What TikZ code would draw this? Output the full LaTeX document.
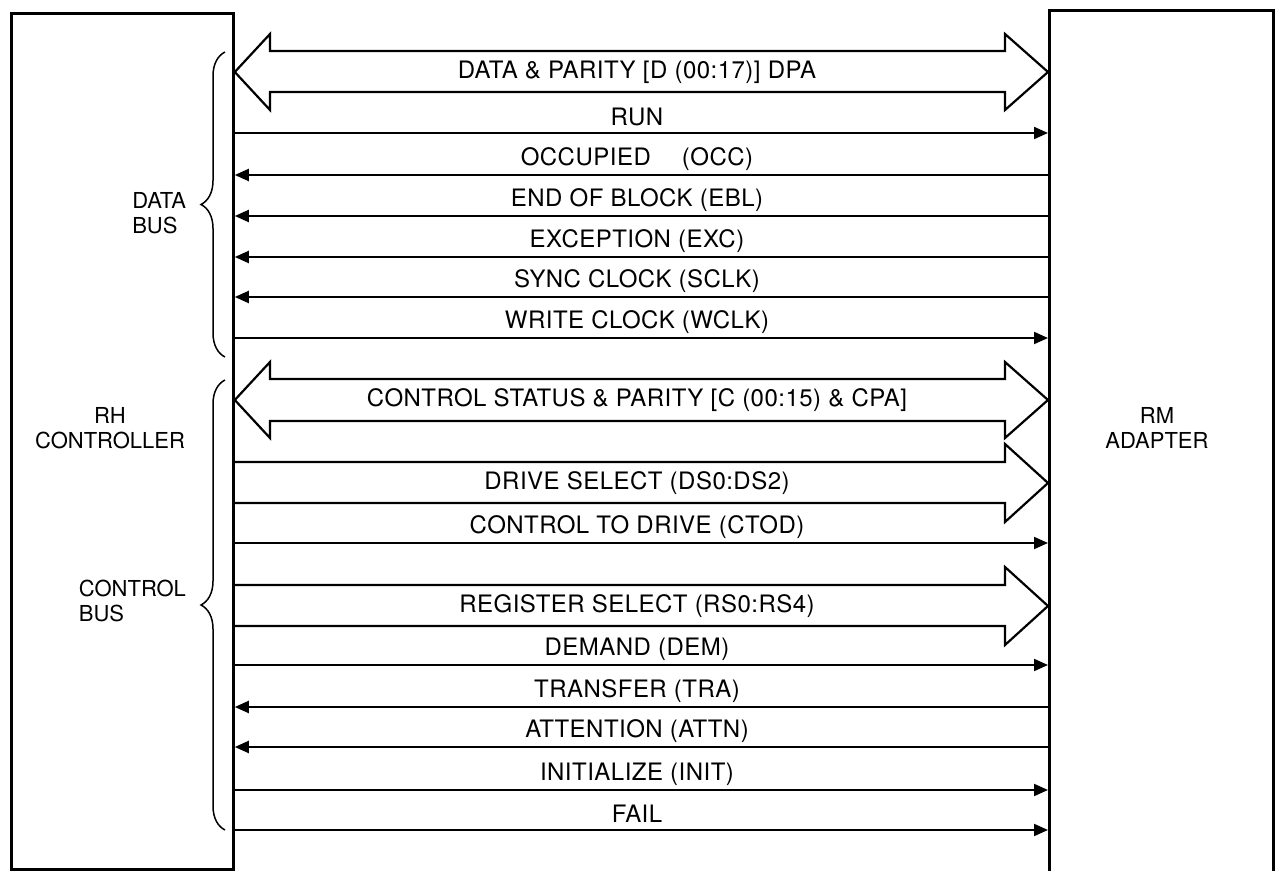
\documentclass[tikz,border=0pt]{standalone}
\usepackage{fontspec}
\setmainfont{TeX Gyre Heros}
\newfontfamily\sigfont[LetterSpace=2]{TeX Gyre Heros}
\usetikzlibrary{arrows.meta,decorations.pathreplacing,positioning}

\tikzset{
  unitbox/.style={draw, line width=1.4pt, anchor=north west, inner sep=0pt},
  sig/.style={line width=1pt},
  fat/.style={line width=1.1pt, line join=miter},
  sigtip/.style={-{Triangle[length=7pt,width=6pt]}},
  lab/.style={font=\sigfont\fontsize{12}{14}\selectfont},
  unitname/.style={font=\fontsize{11}{12.5}\selectfont, align=center},
  busname/.style={font=\fontsize{11}{12.5}\selectfont, align=left, anchor=east},
  bus/.style={decorate, decoration={brace, mirror, amplitude=12pt}, line width=0.75pt},
}

\begin{document}
\begin{tikzpicture}[x=0.5pt,y=-0.5pt]
  \useasboundingbox (0,0) rectangle (1276,871);
  % the two units
  \node[unitbox, minimum width=111pt, minimum height=428pt] (rh) at (10,12) {};
  \node[unitbox, minimum width=112pt, minimum height=434pt] (rm) at (1048,9) {};
  \node[unitname] (rhname) at (110,428) {RH\\CONTROLLER};
  \node[unitname] (rmname) at (1157,428) {RM\\ADAPTER};

  % wide buses
  \draw[fat] (rh.east |- 0,72) -- (270,34) -- (270,51) -- (1005,51) -- (1005,34)
    -- (rm.west |- 0,72) -- (1005,110) -- (1005,92) -- (270,92) -- (270,110) -- cycle;
  \node[lab] (dpa) at (637,72) {DATA \& PARITY [D (00:17)] DPA};
  \draw[fat] (rh.east |- 0,400) -- (270,362) -- (270,379) -- (1005,379) -- (1005,362)
    -- (rm.west |- 0,400) -- (1005,438) -- (1005,421) -- (270,421) -- (270,438) -- cycle;
  \node[lab] (cpa) at (637,400) {CONTROL STATUS \& PARITY [C (00:15) \& CPA]};
  \draw[fat] (rh.east |- 0,462) -- (1005,462) -- (1005,444) -- (rm.west |- 0,483)
    -- (1005,522) -- (1005,503) -- (rh.east |- 0,503);
  \node[lab] (ds) at (637,483) {DRIVE SELECT (DS0:DS2)};
  \draw[fat] (rh.east |- 0,585) -- (1005,585) -- (1005,567) -- (rm.west |- 0,606)
    -- (1005,645) -- (1005,626) -- (rh.east |- 0,626);
  \node[lab] (rs) at (637,606) {REGISTER SELECT (RS0:RS4)};

  % single lines, r = to adapter, l = to controller
  \foreach \y/\txt/\dir in {133/RUN/r, 175/OCCUPIED\quad\ (OCC)/l,
      216/END OF BLOCK (EBL)/l, 257/EXCEPTION (EXC)/l, 297/SYNC CLOCK (SCLK)/l,
      338/WRITE CLOCK (WCLK)/r, 543/CONTROL TO DRIVE (CTOD)/r,
      665/DEMAND (DEM)/r, 707/TRANSFER (TRA)/l, 747/ATTENTION (ATTN)/l,
      790/INITIALIZE (INIT)/r, 830/FAIL/r}
  {
    \if\dir r
      \draw[sig, sigtip] (rh.east |- 0,\y) -- (rm.west |- 0,\y);
    \else
      \draw[sig, sigtip] (rm.west |- 0,\y) -- (rh.east |- 0,\y);
    \fi
    \node[lab] at (637,\y-16) {\txt};
  }

  % bus braces
  \draw[bus] (225,52) -- (225,357);
  \draw[bus] (225,380) -- (225,830);
  \node[busname] (databus) at (193,213) {DATA\\BUS};
  \node[busname] (ctlbus) at (193,601) {CONTROL\\BUS};
\end{tikzpicture}
\end{document}
